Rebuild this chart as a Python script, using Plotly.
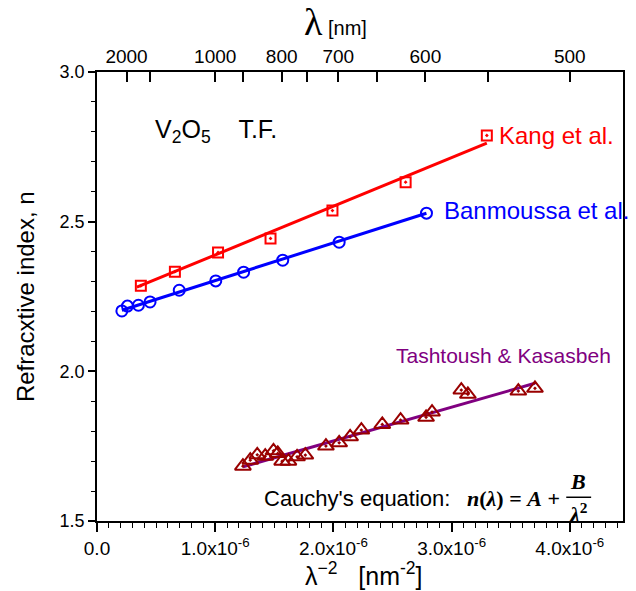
import numpy as np
import plotly.graph_objects as go

# ---------------- data (x in units of 1e-6 nm^-2) ----------------
kang_x = [0.371, 0.659, 1.024, 1.468, 1.992, 2.611, 3.298]
kang_n = [2.286, 2.333, 2.397, 2.444, 2.537, 2.632, 2.788]
kang_fit_x = [0.337, 3.298]
kang_fit_n = [2.281, 2.7625]

ban_x = [0.2105, 0.2577, 0.3503, 0.4488, 0.6956, 1.0046, 1.2404, 1.5714, 2.0488, 2.7874]
ban_n = [2.2017, 2.218, 2.2207, 2.2318, 2.2709, 2.302, 2.3311, 2.3712, 2.4314, 2.5284]
ban_fit_x = [0.2105, 2.787]
ban_fit_n = [2.204, 2.528]

tash_x = [1.2345, 1.2968, 1.3558, 1.4232, 1.4931, 1.5293, 1.5663, 1.6194, 1.6926, 1.7625,
          1.9368, 2.0488, 2.1415, 2.2366, 2.4135, 2.5684, 2.784, 2.8345, 3.0821, 3.1377,
          3.5646, 3.7053]
tash_n = [1.6833, 1.7033, 1.7211, 1.7167, 1.7344, 1.7258, 1.700, 1.700, 1.7144, 1.7201,
          1.7502, 1.7612, 1.7813, 1.8037, 1.8227, 1.8371, 1.8462, 1.8639, 1.9375, 1.9231,
          1.9341, 1.9431]
tash_fit_x = [1.2345, 3.7053]
tash_fit_n = [1.681, 1.960]

bottom_tickvals = [0, 1, 2, 3, 4]
bottom_ticktext = ["0.0", "1.0x10<sup>-6</sup>", "2.0x10<sup>-6</sup>",
                   "3.0x10<sup>-6</sup>", "4.0x10<sup>-6</sup>"]
top_lambda_nm = [2000, 1500, 1000, 900, 800, 750, 700, 650, 600, 550, 500]
top_labels = ["2000", "", "1000", "", "800", "", "700", "", "600", "", "500"]

SCALE = 1e-6
def sx(v):
    return np.array(v) * SCALE

FONT = "Liberation Sans, Arial, sans-serif"
SERIF = "Liberation Serif, Times New Roman, serif"

fig = go.Figure()
# fit lines
fig.add_trace(go.Scatter(x=sx(kang_fit_x), y=kang_fit_n, mode="lines",
                         line=dict(color="#FF0000", width=3), showlegend=False))
fig.add_trace(go.Scatter(x=sx(ban_fit_x), y=ban_fit_n, mode="lines",
                         line=dict(color="#0000FF", width=3), showlegend=False))
fig.add_trace(go.Scatter(x=sx(tash_fit_x), y=tash_fit_n, mode="lines",
                         line=dict(color="#800080", width=3), showlegend=False))
# markers
fig.add_trace(go.Scatter(x=sx(kang_x), y=kang_n, mode="markers",
                         marker=dict(symbol="square-open-dot", size=10, color="#FF0000",
                                     line=dict(width=2, color="#FF0000")), showlegend=False))
fig.add_trace(go.Scatter(x=sx(ban_x), y=ban_n, mode="markers",
                         marker=dict(symbol="circle-open", size=11, color="#0000FF",
                                     line=dict(width=2, color="#0000FF")), showlegend=False))
fig.add_trace(go.Scatter(x=sx(tash_x), y=tash_n, mode="markers",
                         marker=dict(symbol="triangle-up-open-dot", size=14, color="#990000",
                                     line=dict(width=2, color="#990000")), showlegend=False))

XMAX = 4.45e-6

def px(x):
    return (x - 96.7) / 528.3

def py(y):
    return (520.7 - y) / 448.4

fig.update_layout(
    width=636, height=591,
    margin=dict(l=97, r=11, t=72, b=70),
    paper_bgcolor="white", plot_bgcolor="white",
    font=dict(family=FONT, size=17, color="black"),
    xaxis=dict(range=[0, XMAX], tickmode="array",
               tickvals=[v * SCALE for v in bottom_tickvals], ticktext=bottom_ticktext,
               ticks="outside", ticklen=9, tickwidth=1.5, tickcolor="black",
               showline=True, linecolor="black", linewidth=1.5, mirror=False,
               showgrid=False, zeroline=False,
               tickfont=dict(size=19),
               minor=dict(tickmode="linear", tick0=0, dtick=1e-7, ticks="outside",
                          ticklen=5, tickwidth=1.2, tickcolor="black", showgrid=False)),
    xaxis2=dict(range=[0, XMAX], overlaying="x", side="top", anchor="y",
                tickmode="array",
                tickvals=[1.0 / (l * l) for l in top_lambda_nm], ticktext=top_labels,
                ticks="inside", ticklen=10, tickwidth=1.5, tickcolor="black",
                showline=True, linecolor="black", linewidth=1.5,
                showgrid=False, zeroline=False, tickfont=dict(size=19)),
    yaxis=dict(range=[1.5, 3.0], tickmode="linear", tick0=1.5, dtick=0.5, tickformat=".1f",
               ticks="outside", ticklen=7, tickwidth=1.5, tickcolor="black",
               showline=True, linecolor="black", linewidth=1.5, mirror=True,
               showgrid=False, zeroline=False, tickfont=dict(size=18),
               minor=dict(tickmode="linear", tick0=1.5, dtick=0.1, ticks="outside",
                          ticklen=4, tickwidth=1.2, tickcolor="black", showgrid=False)),
)
# invisible trace to anchor top axis
fig.add_trace(go.Scatter(x=[None], y=[None], xaxis="x2", yaxis="y", showlegend=False,
                         hoverinfo="skip"))

NB = "\u00a0"
ann = []
ann.append(dict(text="V<sub>2</sub>O<sub>5</sub>" + NB * 4 + "T.F.", x=px(153), y=py(131),
                xanchor="left", yanchor="middle", font=dict(size=25)))
ann.append(dict(text="Kang et al.", x=px(498), y=py(136), xanchor="left", yanchor="middle",
                font=dict(size=24, color="#FF0000")))
ann.append(dict(text="Banmoussa et al.", x=px(443), y=py(211), xanchor="left", yanchor="middle",
                font=dict(size=24, color="#0000FF")))
ann.append(dict(text="Tashtoush & Kasasbeh", x=px(395), y=py(355), xanchor="left",
                yanchor="middle", font=dict(size=21, color="#800080")))
ann.append(dict(text="Cauchy's equation:", x=px(262), y=py(498), xanchor="left",
                yanchor="middle", font=dict(size=22)))
ann.append(dict(text="<b><i>n</i>(<i>λ</i>) = <i>A</i> +</b>", x=px(466), y=py(498),
                xanchor="left", yanchor="middle", font=dict(size=22, family=SERIF)))
ann.append(dict(text="<b><i>B</i></b>", x=px(580), y=py(481), xanchor="center",
                yanchor="middle", font=dict(size=22, family=SERIF)))
ann.append(dict(text="<b><i>λ</i><sup>2</sup></b>", x=px(580), y=py(513), xanchor="center",
                yanchor="middle", font=dict(size=22, family=SERIF)))
ann.append(dict(text="Refracxtive index, n", x=px(25), y=0.5, textangle=-90,
                xanchor="center", yanchor="middle", font=dict(size=24)))
ann.append(dict(text="λ<sup>\u22122</sup>" + NB * 3 + "[nm<sup>-2</sup>]", x=px(364), y=py(574),
                xanchor="center", yanchor="middle", font=dict(size=25)))
ann.append(dict(text="<span style='font-family:Liberation Serif;font-size:38px'>λ</span> [nm]",
                x=px(336), y=py(22), xanchor="center", yanchor="middle", font=dict(size=20)))
for a in ann:
    a.update(xref="paper", yref="paper", showarrow=False)
fig.update_layout(annotations=ann)

fig.add_shape(type="line", xref="paper", yref="paper", x0=px(568), x1=px(593),
              y0=py(497), y1=py(497), line=dict(color="black", width=1.5))

fig.write_html("out.html")
